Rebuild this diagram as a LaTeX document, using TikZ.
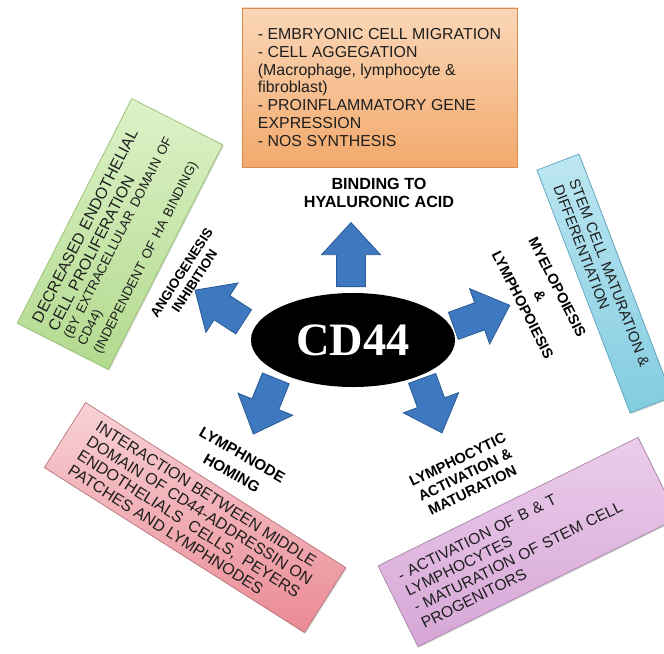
\documentclass[tikz,border=0pt]{standalone}
\usepackage{fontspec}
\setmainfont{Liberation Sans}
\newfontfamily\cdfont{Liberation Serif}
\usepackage{tikz}
\usetikzlibrary{shapes.geometric,
                shapes.arrows,
                shadows,
                positioning}

\definecolor{arrowfill}{HTML}{3E78BE}
\definecolor{arrowedge}{HTML}{2B5C99}
\definecolor{boxtext}{HTML}{1E1E1E}
\definecolor{orangeA}{HTML}{FAD7B8}
\definecolor{orangeB}{HTML}{F2A96C}
\definecolor{orangeC}{HTML}{D98E56}
\definecolor{greenA}{HTML}{DDF2C8}
\definecolor{greenB}{HTML}{B2DA8E}
\definecolor{greenC}{HTML}{96C070}
\definecolor{cyanA}{HTML}{BDE6F1}
\definecolor{cyanB}{HTML}{82CCE0}
\definecolor{cyanC}{HTML}{5EA6BE}
\definecolor{pinkA}{HTML}{F8D2D6}
\definecolor{pinkB}{HTML}{EA8A93}
\definecolor{pinkC}{HTML}{B8777D}
\definecolor{purpA}{HTML}{EBCDEB}
\definecolor{purpB}{HTML}{D6A6D6}
\definecolor{purpC}{HTML}{A985A9}

\newcommand{\bigtxt}{\fontsize{11.3}{12.7}\selectfont}
\newcommand{\smalltxt}{\fontsize{9.5}{11.2}\selectfont}
\newcommand{\tagfont}[2]{\bfseries\fontsize{#1}{#2}\selectfont}

\tikzset{
    infobox/.style={rectangle, draw=#1C, top color=#1A, bottom color=#1B,
        text=boxtext, align=left, line width=0.5pt,
        drop shadow={shadow xshift=0.8pt, shadow yshift=-0.8pt, opacity=0.3}},
    blockarrow/.style={single arrow, draw=arrowedge, fill=arrowfill, line width=0.6pt,
        inner xsep=0pt, inner ysep=0.35cm, single arrow head extend=0.375cm,
        single arrow tip angle=85, anchor=tail},
    tag/.style={align=center, text=black}
}

\begin{document}
\begin{tikzpicture}[x=0.025cm, y=-0.025cm]
    \useasboundingbox (0,0) rectangle (664,653);

    \node[infobox=orange, minimum width=6.875cm, minimum height=3.975cm,
          font=\bigtxt] (hyalBox) at (379.5,87.5)
        {- EMBRYONIC CELL MIGRATION\\- CELL AGGEGATION\\(Macrophage, lymphocyte \&\\fibroblast)\\- PROINFLAMMATORY GENE\\EXPRESSION\\- NOS SYNTHESIS};
    \node[infobox=green, rotate=63, minimum width=6.3cm, minimum height=2.55cm, text width=5.8cm,
          font=\bigtxt] (angioBox) at (120,234)
        {DECREASED ENDOTHELIAL\\CELL PROLIFERATION\\\smalltxt(BY EXTRACELLULAR DOMAIN OF\\CD44)\\(INDEPENDENT OF HA BINDING)};
    \node[infobox=cyan, rotate=-69, minimum width=6.5cm, minimum height=1.125cm, text width=5.4cm,
          inner ysep=1pt, font=\fontsize{10.6}{12}\selectfont] (stemBox) at (604.5,283.5)
        {STEM CELL MATURATION \&\\DIFFERENTIATION};
    \node[infobox=pink, rotate=-32.4, minimum width=7.7cm, minimum height=1.925cm,
          inner ysep=1pt, font=\fontsize{11.4}{12.3}\selectfont] (homingBox) at (195,517.5)
        {INTERACTION BETWEEN MIDDLE\\DOMAIN OF CD44-ADDRESSIN ON\\ENDOTHELIALS\ \ CELLS,\ \ PEYERS\\PATCHES AND LYMPHNODES};
    \node[infobox=purp, rotate=26.3, minimum width=7.25cm, minimum height=2.25cm, text width=6.55cm,
          font=\fontsize{11.1}{12.6}\selectfont] (lymphoBox) at (528,542)
        {- ACTIVATION OF B \& T\\LYMPHOCYTES\\- MATURATION OF STEM CELL\\PROGENITORS};

    \node[tag, font=\tagfont{11.5}{12.5}] (hyalTag) at (379,193) {BINDING TO\\HYALURONIC ACID};
    \node[tag, rotate=57, font=\tagfont{9.5}{11}] (angioTag) at (188,277) {ANGIOGENESIS\\INHIBITION};
    \node[tag, rotate=-63, font=\tagfont{10.3}{13.8}] (myeloTag) at (540,296) {MYELOPOIESIS\\\&\\LYMPHOPOIESIS};
    \node[tag, rotate=-30, font=\tagfont{10.8}{15}] (homingTag) at (237,464) {LYMPHNODE\\HOMING};
    \node[tag, rotate=25.8, font=\tagfont{10.4}{12.2}] (lymphoTag) at (465,475) {LYMPHOCYTIC\\ACTIVATION \&\\MATURATION};

    \node[blockarrow, minimum height=1.6cm, rotate=90] (arrUp) at (351,287) {};
    \node[blockarrow, minimum height=1.45cm, rotate=147] (arrAngio) at (244,322) {};
    \node[blockarrow, minimum height=1.5cm, rotate=20] (arrMyelo) at (453,326) {};
    \node[blockarrow, minimum height=1.5cm, rotate=-112] (arrHoming) at (276,378) {};
    \node[blockarrow, minimum height=1.45cm, rotate=-70] (arrLympho) at (422,378) {};

    \node[ellipse, fill=black, minimum width=5.1cm, minimum height=2.35cm, inner sep=0pt,
          text=white, font=\cdfont\bfseries\fontsize{33}{36}\selectfont] (cd) at (353,340) {CD44};
\end{tikzpicture}
\end{document}
